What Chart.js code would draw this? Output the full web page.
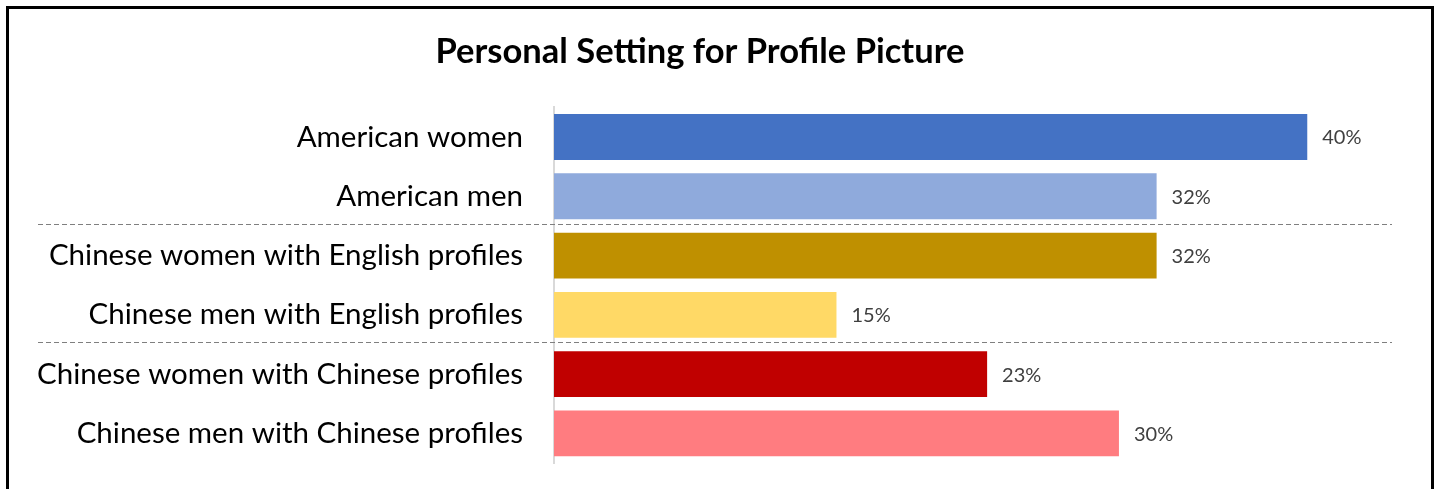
<!DOCTYPE html>
<html>
<head>
<meta charset="utf-8">
<script src="https://cdn.jsdelivr.net/npm/chart.js@4/dist/chart.umd.min.js"></script>
<style>
  html, body { margin: 0; padding: 0; background: #fff; overflow: hidden; }
  #wrap { position: relative; width: 1440px; height: 489px; }
  #frame {
    position: absolute; left: 6px; top: 6px; width: 1422px; height: 520px;
    border: 3px solid #000; box-sizing: content-box; pointer-events: none;
  }
  canvas { position: absolute; left: 0; top: 0; }
</style>
</head>
<body>
<div id="wrap">
  <canvas id="chart" width="1440" height="489"></canvas>
  <div id="frame"></div>
</div>
<script>
const categories = [
  'American women',
  'American men',
  'Chinese women with English profiles',
  'Chinese men with English profiles',
  'Chinese women with Chinese profiles',
  'Chinese men with Chinese profiles',
];
const values = [40, 32, 32, 15, 23, 30];
const barColors = ['#4472C4', '#8FAADC', '#BF9000', '#FFD966', '#C00000', '#FF7C80'];
// пунктир после этих строк (разделение групп)
const groupBreaks = [1, 3];

const FONT = "Lato, 'Open Sans', sans-serif";

// Подписи значений справа от столбцов
const valueLabels = {
  id: 'valueLabels',
  afterDatasetsDraw(chart) {
    const { ctx } = chart;
    const meta = chart.getDatasetMeta(0);
    ctx.save();
    ctx.font = `20px ${FONT}`;
    ctx.fillStyle = '#404040';
    ctx.textAlign = 'left';
    ctx.textBaseline = 'middle';
    meta.data.forEach((bar, i) => {
      ctx.fillText(values[i] + '%', bar.x + 15, bar.y + 1);
    });
    ctx.restore();
  },
};

// Пунктирные линии между группами
const groupLines = {
  id: 'groupLines',
  afterDraw(chart) {
    const { ctx, chartArea } = chart;
    const y = chart.scales.y;
    ctx.save();
    ctx.strokeStyle = '#7f7f7f';
    ctx.lineWidth = 1;
    ctx.setLineDash([5, 3]);
    groupBreaks.forEach((idx) => {
      const mid = (y.getPixelForValue(idx) + y.getPixelForValue(idx + 1)) / 2;
      const yy = Math.round(mid) - 2 + 0.5;
      ctx.beginPath();
      ctx.moveTo(38, yy);
      ctx.lineTo(chartArea.right, yy);
      ctx.stroke();
    });
    ctx.restore();
  },
};

new Chart(document.getElementById('chart'), {
  type: 'bar',
  data: {
    labels: categories,
    datasets: [
      {
        data: values,
        backgroundColor: barColors,
        categoryPercentage: 1,
        barPercentage: 0.774,
      },
    ],
  },
  options: {
    indexAxis: 'y',
    responsive: false,
    animation: false,
    layout: {
      padding: { left: 8, right: 48, top: 0, bottom: 26 },
    },
    plugins: {
      legend: { display: false },
      tooltip: { enabled: false },
      title: {
        display: true,
        text: 'Personal Setting for Profile Picture',
        color: '#000',
        font: { family: FONT, size: 34.5, weight: 'bold', lineHeight: 1.2 },
        padding: { top: 31, bottom: 35 },
      },
    },
    scales: {
      x: {
        display: false,
        min: 0,
        max: 44.5,
      },
      y: {
        afterFit(scale) {
          // фиксированная ширина оси и без лишних отступов сверху/снизу
          scale.width = 554 - 8;
          scale.paddingTop = 0;
          scale.paddingBottom = 0;
        },
        ticks: {
          color: '#000',
          padding: 31,
          font: { family: FONT, size: 29.5 },
        },
        grid: { display: false, drawTicks: false },
        border: { display: true, color: '#d9d9d9', width: 2 },
      },
    },
  },
  plugins: [valueLabels, groupLines],
});
</script>
</body>
</html>
